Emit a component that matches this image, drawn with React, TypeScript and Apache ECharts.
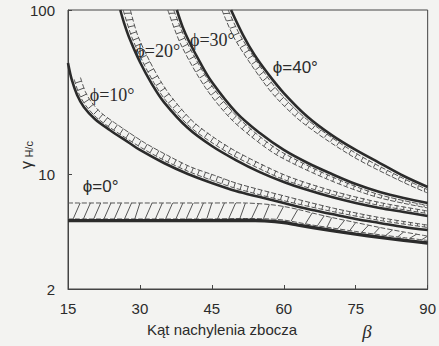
import React, { useEffect, useRef } from "react";
import * as echarts from "echarts";

// ---- axis ticks ----
const betaTicks = [15, 30, 45, 60, 75, 90];
const gammaTicks = [2, 10, 100];

// ---- solid curves (beta in degrees, gammaH/c) ----
const phi0Beta = [15, 30, 45, 52, 56, 60, 63, 66, 70, 75, 80, 85, 90];
const phi0Val = [5.22, 5.22, 5.22, 5.24, 5.2, 5.08, 4.9, 4.74, 4.54, 4.32, 4.13, 3.96, 3.81];

const phi10Beta = [15, 15.8, 16.9, 18.3, 20.6, 23.7, 27.8, 30, 35, 40, 45, 50, 55, 60, 65, 70, 75, 80, 85, 90];
const phi10Val = [47.6, 37.5, 30.4, 25.7, 21.7, 18.6, 15.5, 14.05, 11.7, 10.03, 8.84, 7.9, 7.26, 6.68, 6.14, 5.72, 5.34, 5.05, 4.77, 4.57];

const phi20Beta = [25.9, 26.7, 27.8, 30, 32.5, 35, 40, 45, 50, 55, 60, 65, 70, 75, 80, 85, 90];
const phi20Val = [100, 83.3, 67.5, 48.2, 35.4, 27.5, 19.1, 14.85, 12.2, 10.3, 8.97, 8.01, 7.26, 6.68, 6.23, 5.89, 5.56];

const phi30Beta = [37.7, 38.9, 40.1, 42.6, 45, 50, 55, 60, 65, 70, 75, 80, 85, 90];
const phi30Val = [100, 78.8, 65.7, 47.6, 36.4, 23.9, 17.8, 14.05, 11.7, 10.03, 8.71, 7.79, 7.16, 6.68];

const phi40Beta = [49, 51.5, 53.9, 56.6, 60, 65, 70, 75, 80, 85, 90];
const phi40Val = [100, 70.4, 53.2, 41.3, 31.2, 22.3, 17.3, 14.05, 11.7, 9.75, 8.36];

// ---- hatched bands: inner edge / outer edge, paired point by point ----
const band0InB = [15, 30, 45, 52, 57, 60, 63, 66, 70, 75, 80, 85, 90];
const band0InV = [5.34, 5.34, 5.34, 5.37, 5.34, 5.26, 5.08, 4.9, 4.71, 4.48, 4.28, 4.11, 3.95];
const band0OutB = [15, 30, 45, 52, 57, 60, 63, 66, 70, 75, 80, 85, 90];
const band0OutV = [6.68, 6.68, 6.68, 6.68, 6.54, 6.36, 6.1, 5.8, 5.45, 5.08, 4.74, 4.45, 4.2];

const band10InB = [16.3, 17.3, 18.7, 20.9, 23.9, 30.3, 35.2, 40.1, 45.2, 50.2, 60.0, 70.1, 80.0, 90];
const band10InV = [37.8, 30.8, 26.2, 22.2, 19.1, 14.5, 12.1, 10.4, 9.14, 8.17, 6.9, 5.93, 5.23, 4.74];
const band10OutB = [17.6, 18.6, 19.8, 21.8, 24.7, 30.9, 35.8, 40.5, 45.6, 50.5, 60.3, 70.3, 80.1, 90];
const band10OutV = [38.8, 31.9, 27.7, 23.8, 20.6, 15.6, 13.0, 11.1, 9.83, 8.75, 7.35, 6.22, 5.44, 4.9];

const band20InB = [26.5, 28.3, 30.5, 32.9, 35.4, 40.3, 45.4, 50.3, 60.1, 70.2, 80.0, 90];
const band20InV = [100, 68.4, 49.0, 36.1, 28.1, 19.6, 15.3, 12.6, 9.26, 7.51, 6.45, 5.76];
const band20OutB = [28.0, 29.5, 31.7, 34.1, 36.5, 41.1, 46.0, 50.8, 60.4, 70.4, 80.1, 90];
const band20OutV = [100, 70.5, 51.0, 37.8, 29.7, 20.9, 16.3, 13.4, 9.83, 7.88, 6.72, 5.97];

const band30InB = [37.05, 39.66, 44.67, 49.65, 54.63, 59.64, 69.8, 79.75, 90];
const band30InV = [100, 64.7, 35.7, 23.4, 17.3, 13.6, 9.71, 7.53, 6.45];
const band30OutB = [35.81, 38.47, 43.58, 48.77, 53.93, 59.13, 69.47, 79.58, 90];
const band30OutV = [100, 62.2, 33.9, 22.0, 16.3, 12.8, 9.22, 7.23, 6.23];

const band40InB = [48.4, 51.0, 56.2, 59.5, 64.7, 74.7, 84.8, 90];
const band40InV = [100, 69.2, 40.5, 30.5, 21.7, 13.6, 9.46, 8.05];
const band40OutB = [47.1, 49.8, 55.2, 58.6, 64.0, 74.2, 84.5, 90];
const band40OutV = [100, 66.4, 38.3, 28.8, 20.5, 12.9, 9.04, 7.68];

// ---- curve labels ----
const labelText = ["ϕ=0°", "ϕ=10°", "ϕ=20°", "ϕ=30°", "ϕ=40°"];
const labelBeta = [21.8, 24.2, 33.7, 45.1, 62.4];
const labelVal = [8.36, 30.4, 56.3, 65.7, 44.4];

const INK = "#2b2b2b";
const HATCH = "#555";

type Band = { inB: number[]; inV: number[]; outB: number[]; outV: number[]; spacing: number; slant: number };

function bandSeries(b: Band) {
  return {
    type: "custom",
    coordinateSystem: "cartesian2d",
    silent: true,
    z: 1,
    encode: { x: [0, 2], y: [1, 3] },
    data: b.inB.map((v, i) => [v, b.inV[i], b.outB[i], b.outV[i]]),
    renderItem: (params: any, api: any) => {
      if (params.dataIndex !== 0) return null;
      const inner = b.inB.map((x, i) => api.coord([x, b.inV[i]]));
      const outer = b.outB.map((x, i) => api.coord([x, b.outV[i]]));
      const children: any[] = [
        { type: "polyline", shape: { points: inner, smooth: 0.3 }, style: { stroke: HATCH, lineWidth: 1, lineDash: [5, 2], fill: "none" } },
        { type: "polyline", shape: { points: outer, smooth: 0.3 }, style: { stroke: HATCH, lineWidth: 1, lineDash: [5, 2], fill: "none" } },
      ];
      const lerp = (p: number[], q: number[], t: number) => [p[0] + (q[0] - p[0]) * t, p[1] + (q[1] - p[1]) * t];
      const dist = (p: number[], q: number[]) => Math.hypot(q[0] - p[0], q[1] - p[1]);
      for (let i = 0; i < inner.length - 1; i++) {
        const a0 = inner[i], a1 = inner[i + 1], b0 = outer[i], b1 = outer[i + 1];
        const L = (dist(a0, a1) + dist(b0, b1)) / 2;
        const n = Math.max(1, Math.round(L / b.spacing));
        for (let k = 0; k < n; k++) {
          const t = (k + 0.5) / n;
          const P = lerp(a0, a1, t);
          const Q = lerp(b0, b1, Math.min(1, t + b.slant / Math.max(L, 1)));
          children.push({ type: "line", shape: { x1: P[0], y1: P[1], x2: Q[0], y2: Q[1] }, style: { stroke: HATCH, lineWidth: 1 } });
        }
      }
      return { type: "group", children };
    },
  };
}

function solid(beta: number[], vals: number[], width: number) {
  return {
    type: "line",
    data: beta.map((b, i) => [b, vals[i]]),
    showSymbol: false,
    symbol: "none",
    smooth: 0.35,
    silent: true,
    z: 3,
    lineStyle: { color: INK, width },
  };
}

export default function App() {
  const ref = useRef<HTMLDivElement>(null);
  useEffect(() => {
    if (!ref.current) return;
    const chart = echarts.init(ref.current, undefined, { renderer: "svg" });
    const labelFonts = [
      '17px "Liberation Sans"',
      '18px "Liberation Serif"',
      '18px "Liberation Serif"',
      '18px "Liberation Serif"',
      '17px "Liberation Sans"',
    ];
    chart.setOption({
      animation: false,
      backgroundColor: "#f3f3f1",
      grid: { left: 68, right: 7, top: 10, bottom: 57, show: true, borderColor: "#444", borderWidth: 1, backgroundColor: "transparent", containLabel: false },
      xAxis: {
        type: "value",
        min: betaTicks[0],
        max: betaTicks[betaTicks.length - 1],
        interval: 15,
        axisLine: { show: true, lineStyle: { color: "#444", width: 1 } },
        axisTick: { show: true, inside: true, length: 4, lineStyle: { color: "#444" } },
        axisLabel: { margin: 12, fontSize: 15, fontFamily: "Liberation Sans", color: INK },
        splitLine: { show: false },
      },
      yAxis: {
        type: "log",
        logBase: 10,
        min: gammaTicks[0],
        max: gammaTicks[gammaTicks.length - 1],
        axisLine: { show: true, lineStyle: { color: "#444", width: 1 } },
        axisTick: { show: true, inside: true, length: 4, lineStyle: { color: "#444" } },
        axisLabel: { margin: 13, fontSize: 15, fontFamily: "Liberation Sans", color: INK, formatter: (v: number) => String(Math.round(v)) },
        splitLine: { show: false },
        minorTick: { show: false },
      },
      graphic: [
        { type: "text", left: 147, top: 322, style: { text: "Kąt nachylenia zbocza", font: '15px "Liberation Sans"', fill: INK } },
        { type: "text", x: 367, y: 331, style: { text: "β", font: 'italic 19px "Liberation Serif"', fill: INK, align: "center", verticalAlign: "middle" } },
        {
          type: "text",
          x: 26,
          y: 155,
          rotation: Math.PI / 2,
          style: {
            text: "{g|γ} {s|H/c}",
            align: "center",
            verticalAlign: "middle",
            fill: INK,
            rich: {
              g: { font: '16px "Liberation Sans"', fill: INK },
              s: { font: '11px "Liberation Sans"', fill: INK, verticalAlign: "bottom" },
            },
          },
        },
      ],
      series: [
        bandSeries({ inB: band0InB, inV: band0InV, outB: band0OutB, outV: band0OutV, spacing: 11, slant: 7 }),
        bandSeries({ inB: band10InB, inV: band10InV, outB: band10OutB, outV: band10OutV, spacing: 7, slant: 0 }),
        bandSeries({ inB: band20InB, inV: band20InV, outB: band20OutB, outV: band20OutV, spacing: 7, slant: 0 }),
        bandSeries({ inB: band30InB, inV: band30InV, outB: band30OutB, outV: band30OutV, spacing: 7, slant: 0 }),
        bandSeries({ inB: band40InB, inV: band40InV, outB: band40OutB, outV: band40OutV, spacing: 7, slant: 0 }),
        solid(phi0Beta, phi0Val, 3.4),
        solid(phi10Beta, phi10Val, 2.6),
        solid(phi20Beta, phi20Val, 2.6),
        solid(phi30Beta, phi30Val, 2.6),
        solid(phi40Beta, phi40Val, 2.6),
        {
          type: "custom",
          coordinateSystem: "cartesian2d",
          silent: true,
          z: 5,
          data: labelBeta.map((b, i) => [b, labelVal[i]]),
          renderItem: (params: any, api: any) => {
            const i = params.dataIndex;
            const p = api.coord([api.value(0), api.value(1)]);
            return {
              type: "text",
              x: p[0],
              y: p[1],
              style: { text: labelText[i], font: labelFonts[i], fill: INK, align: "center", verticalAlign: "middle" },
            };
          },
        },
      ],
    });
    return () => chart.dispose();
  }, []);
  return <div ref={ref} style={{ position: "fixed", left: 0, top: 0, width: 439, height: 346 }} />;
}
